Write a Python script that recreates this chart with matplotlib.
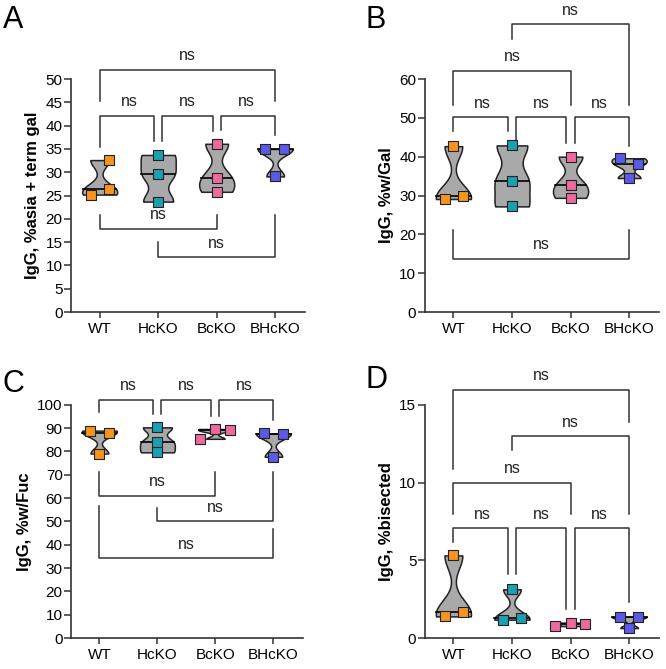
import numpy as np
import matplotlib.pyplot as plt

plt.rcParams['font.family'] = ['Liberation Sans', 'DejaVu Sans']

groups = ['WT', 'HcKO', 'BcKO', 'BHcKO']
colors = ['#F7941D', '#1C9FB0', '#EC6A9C', '#5A5AE6']

# A - %asia + term gal
asia_wt = [32.6, 25.2, 26.3]
asia_hcko = [33.7, 29.6, 23.7]
asia_bcko = [36.1, 28.8, 25.8]
asia_bhcko = [35.0, 35.0, 29.1]

# B - %w/Gal
gal_wt = [42.7, 29.1, 29.8]
gal_hcko = [42.9, 33.8, 27.2]
gal_bcko = [40.0, 32.7, 29.4]
gal_bhcko = [39.6, 38.1, 34.5]

# C - %w/Fuc
fuc_wt = [88.9, 88.0, 79.1]
fuc_hcko = [90.3, 83.9, 79.6]
fuc_bcko = [85.4, 89.6, 89.0]
fuc_bhcko = [87.7, 87.4, 77.7]

# D - %bisected
bis_wt = [5.31, 1.39, 1.69]
bis_hcko = [3.13, 1.18, 1.26]
bis_bcko = [0.77, 0.99, 0.90]
bis_bhcko = [1.37, 1.37, 0.64]

# horizontal scatter of the points (prism style)
jit_a = [[0.16, -0.15, 0.16], [0, 0, 0], [0, 0, 0], [-0.17, 0.15, 0]]
jit_b = [[0, -0.14, 0.16], [0, 0, 0], [0, 0, 0], [-0.15, 0.15, 0]]
jit_c = [[-0.16, 0.16, 0], [0, 0, 0], [-0.26, 0, 0.25], [-0.16, 0.16, 0]]
jit_d = [[0, -0.15, 0.16], [0, -0.16, 0.16], [-0.26, 0, 0.25], [-0.15, 0.15, 0]]

# brackets: (i, j, line y, end y at i, end y at j, dx i, dx j)
br_a = [(0, 1, 42.1, 35.5, 36.6, 0, -0.07), (1, 2, 42.1, 36.6, 38.8, 0.07, -0.07),
        (2, 3, 42.1, 39.1, 38.0, 0.07, 0), (0, 3, 52.0, 45.2, 45.2, 0, 0),
        (0, 2, 17.8, 20.9, 20.9, 0, 0), (1, 3, 11.7, 14.95, 20.9, 0, 0)]
br_b = [(0, 1, 50.1, 46.5, 46.5, 0, -0.07), (1, 2, 50.1, 44.3, 43.6, 0.07, -0.07),
        (2, 3, 50.1, 43.6, 42.8, 0.07, 0), (0, 2, 62.1, 53.3, 53.3, 0, 0),
        (1, 3, 74.1, 70.3, 53.3, 0, 0), (0, 3, 13.6, 21.2, 21.2, 0, 0)]
br_c = [(0, 1, 102.1, 97.1, 96.0, 0, -0.07), (1, 2, 102.1, 96.0, 95.3, 0.07, -0.07),
        (2, 3, 102.1, 95.3, 93.6, 0.07, 0), (0, 2, 61.0, 71.0, 71.0, 0, 0),
        (1, 3, 50.0, 55.7, 71.0, 0, 0), (0, 3, 34.1, 56.7, 46.7, 0, 0)]
br_d = [(0, 1, 7.05, 6.15, 4.1, 0, -0.07), (1, 2, 7.05, 4.1, 1.86, 0.07, -0.07),
        (2, 3, 7.05, 1.86, 2.3, 0.07, 0), (0, 2, 10.0, 7.97, 7.97, 0, 0),
        (1, 3, 12.96, 12.1, 7.97, 0, 0), (0, 3, 15.94, 10.9, 13.86, 0, 0)]

LINE = '#333333'


def violin(ax, pos, vals):
    v = np.array(vals, dtype=float)
    bw = 0.4 * v.std(ddof=1)
    grid = np.linspace(v.min(), v.max(), 300)
    dens = np.exp(-0.5 * ((grid[:, None] - v[None, :]) / bw) ** 2).sum(axis=1)
    half = 0.3 * dens / dens.max()
    ax.fill_betweenx(grid, pos - half, pos + half, facecolor='#A9A9A9',
                     edgecolor='#222222', lw=1.1, zorder=2)
    med = np.median(v)
    hm = np.interp(med, grid, half)
    ax.plot([pos - hm, pos + hm], [med, med], color='black', lw=1.2, zorder=3)


def panel(ax, data, jit, brackets, yticks, ylabel):
    for k, vals in enumerate(data):
        violin(ax, k, vals)
        ax.scatter(np.array(jit[k]) + k, vals, marker='s', s=55, color=colors[k],
                   edgecolor='#222222', lw=0.8, zorder=4, clip_on=False)
    for i, j, yl, yi, yj, dxi, dxj in brackets:
        xi, xj = i + dxi, j + dxj
        ax.plot([xi, xi, xj, xj], [yi, yl, yl, yj], color=LINE, lw=1.1,
                clip_on=False, zorder=1)
        ax.annotate('ns', ((i + j) / 2, yl), xytext=(0, 7), textcoords='offset points',
                    ha='center', va='baseline', fontsize=11.5, color='#222222',
                    annotation_clip=False)
    ax.set_xlim(-0.49, 3.51)
    ax.set_ylim(yticks[0], yticks[-1])
    ax.set_yticks(yticks)
    ax.set_xticks(range(4))
    ax.set_xticklabels(groups)
    ax.set_ylabel(ylabel, fontsize=12, fontweight='bold', labelpad=4)
    for s in ['top', 'right']:
        ax.spines[s].set_visible(False)
    for s in ['left', 'bottom']:
        ax.spines[s].set_color(LINE)
        ax.spines[s].set_linewidth(1.2)
    ax.tick_params(axis='y', length=5, width=1.1, color=LINE, labelsize=11, pad=1)
    ax.tick_params(axis='x', length=4, width=1.1, color=LINE, labelsize=11, pad=3)


fig = plt.figure(figsize=(6.66, 6.69), dpi=100)
ax_a = fig.add_axes([0.1066, 0.5336, 0.3514, 0.3483])
ax_b = fig.add_axes([0.6377, 0.5336, 0.3518, 0.3483])
ax_c = fig.add_axes([0.1066, 0.0463, 0.3484, 0.3487])
ax_d = fig.add_axes([0.6377, 0.0463, 0.3518, 0.3487])

panel(ax_a, [asia_wt, asia_hcko, asia_bcko, asia_bhcko], jit_a, br_a,
      list(range(0, 51, 5)), 'IgG, %asia + term gal')
panel(ax_b, [gal_wt, gal_hcko, gal_bcko, gal_bhcko], jit_b, br_b,
      list(range(0, 61, 10)), 'IgG, %w/Gal')
panel(ax_c, [fuc_wt, fuc_hcko, fuc_bcko, fuc_bhcko], jit_c, br_c,
      list(range(0, 101, 10)), 'IgG, %w/Fuc')
panel(ax_d, [bis_wt, bis_hcko, bis_bcko, bis_bhcko], jit_d, br_d,
      [0, 5, 10, 15], 'IgG, %bisected')

fig.text(0.004, 0.993, 'A', fontsize=22, ha='left', va='top')
fig.text(0.549, 0.993, 'B', fontsize=22, ha='left', va='top')
fig.text(0.004, 0.448, 'C', fontsize=22, ha='left', va='top')
fig.text(0.549, 0.455, 'D', fontsize=22, ha='left', va='top')

fig.savefig('out.png', dpi=100)
